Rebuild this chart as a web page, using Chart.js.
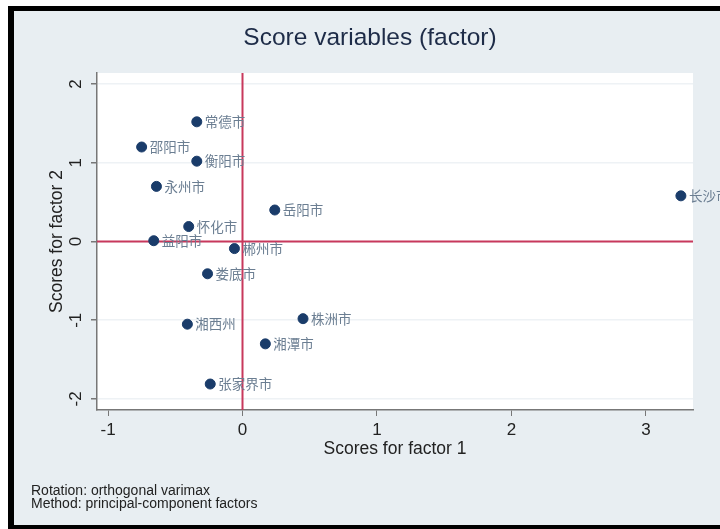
<!DOCTYPE html>
<html>
<head>
<meta charset="utf-8">
<script src="https://cdn.jsdelivr.net/npm/chart.js"></script>
<style>
  html, body { margin: 0; padding: 0; background: #fff; }
  #wrap { width: 720px; height: 529px; }
</style>
</head>
<body>
<div id="wrap"><canvas id="myChart" width="720" height="529"></canvas></div>

<script>
// city names and their factor scores
const cities = ["常德市", "邵阳市", "衡阳市", "永州市", "岳阳市", "怀化市", "益阳市",
                "郴州市", "娄底市", "湘西州", "株洲市", "湘潭市", "张家界市", "长沙市"]
const factor1 = [-0.34, -0.75, -0.34, -0.64, 0.24, -0.40, -0.66,
                 -0.06, -0.26, -0.41, 0.45, 0.17, -0.24, 3.26]
const factor2 = [1.52, 1.20, 1.02, 0.70, 0.40, 0.19, 0.01,
                 -0.09, -0.41, -1.05, -0.98, -1.30, -1.81, 0.58]

const xTicks = [-1, 0, 1, 2, 3]
const yTicks = [-2, -1, 0, 1, 2]

const titleText = "Score variables (factor)"
const xTitle = "Scores for factor 1"
const yTitle = "Scores for factor 2"
const notes = ["Rotation: orthogonal varimax", "Method: principal-component factors"]

const points = cities.map((c, i) => ({ x: factor1[i], y: factor2[i], name: c }))

const sans = "'Liberation Sans', Arial, sans-serif"

// background, frame, title, footnote
const framePlugin = {
  id: 'frame',
  beforeDraw(chart) {
    const ctx = chart.ctx
    ctx.save()
    ctx.fillStyle = '#ffffff'
    ctx.fillRect(0, 0, 720, 529)
    ctx.fillStyle = '#000000'
    ctx.fillRect(8, 6, 712, 523)
    ctx.fillStyle = '#e8eef2'
    ctx.fillRect(14, 11, 706, 514)
    const a = chart.chartArea
    ctx.fillStyle = '#ffffff'
    ctx.fillRect(a.left, a.top, a.right - a.left, a.bottom - a.top)
    ctx.restore()
  },
  afterDraw(chart) {
    const ctx = chart.ctx
    ctx.save()
    ctx.fillStyle = '#1e2c48'
    ctx.font = '24.5px ' + sans
    ctx.textAlign = 'center'
    ctx.textBaseline = 'middle'
    ctx.fillText(titleText, 370, 38)

    ctx.fillStyle = '#222'
    ctx.font = '14px ' + sans
    ctx.textAlign = 'left'
    notes.forEach((n, i) => ctx.fillText(n, 31, 491 + i * 12.7))

    // rotated y tick labels, like Stata
    const ys = chart.scales.y
    ctx.fillStyle = '#222'
    ctx.font = '17px ' + sans
    ctx.textAlign = 'center'
    yTicks.forEach(v => {
      const py = ys.getPixelForValue(v)
      ctx.save()
      ctx.translate(76, py)
      ctx.rotate(-Math.PI / 2)
      ctx.fillText(String(v), 0, 0)
      ctx.restore()
    })
    ctx.restore()
  }
}

// red reference lines at 0
const zeroLines = {
  id: 'zeroLines',
  beforeDatasetsDraw(chart) {
    const ctx = chart.ctx
    const a = chart.chartArea
    const x0 = chart.scales.x.getPixelForValue(0)
    const y0 = chart.scales.y.getPixelForValue(0)
    ctx.save()
    ctx.strokeStyle = '#c8385c'
    ctx.lineWidth = 2
    ctx.beginPath()
    ctx.moveTo(x0, a.top)
    ctx.lineTo(x0, a.bottom)
    ctx.moveTo(a.left, y0)
    ctx.lineTo(a.right, y0)
    ctx.stroke()
    ctx.restore()
  }
}

// city name next to each marker
const pointLabels = {
  id: 'pointLabels',
  afterDatasetsDraw(chart) {
    const ctx = chart.ctx
    const meta = chart.getDatasetMeta(0)
    ctx.save()
    ctx.fillStyle = '#6b7e92'
    ctx.font = "13.5px 'Noto Sans CJK SC', sans-serif"
    ctx.textAlign = 'left'
    ctx.textBaseline = 'middle'
    meta.data.forEach((el, i) => {
      ctx.fillText(cities[i], el.x + 8, el.y)
    })
    ctx.restore()
  }
}

const config = {
  type: 'scatter',
  data: {
    datasets: [{
      data: points,
      backgroundColor: '#1a3c6a',
      borderColor: '#1a3c6a',
      pointRadius: 5,
      pointHoverRadius: 5
    }]
  },
  options: {
    responsive: false,
    animation: false,
    layout: { padding: { top: 73, right: 27, left: 0, bottom: 0 } },
    plugins: {
      legend: { display: false },
      tooltip: { enabled: false },
      title: { display: false }
    },
    scales: {
      x: {
        type: 'linear',
        min: -1.082,
        max: 3.35,
        afterBuildTicks: s => { s.ticks = xTicks.map(v => ({ value: v })) },
        afterFit: s => { s.height = 119 },
        ticks: { color: '#222', font: { family: sans, size: 17 }, padding: 4 },
        grid: { drawOnChartArea: false, drawTicks: true, tickLength: 6, tickColor: '#777' },
        border: { color: '#777', width: 1.5 },
        title: { display: true, text: xTitle, color: '#222', font: { family: sans, size: 17.5 }, padding: { bottom: 69 } }
      },
      y: {
        type: 'linear',
        min: -2.14,
        max: 2.14,
        afterBuildTicks: s => { s.ticks = yTicks.map(v => ({ value: v })) },
        afterFit: s => { s.width = 97 },
        ticks: { display: false },
        grid: { color: '#eef2f5', lineWidth: 1.5, drawTicks: true, tickLength: 6, tickColor: '#777' },
        border: { color: '#777', width: 1.5 },
        title: { display: true, text: yTitle, color: '#222', font: { family: sans, size: 17.5 }, padding: { top: 47 } }
      }
    }
  },
  plugins: [framePlugin, zeroLines, pointLabels]
}

const myChart = new Chart(document.getElementById('myChart'), config)
</script>
</body>
</html>
